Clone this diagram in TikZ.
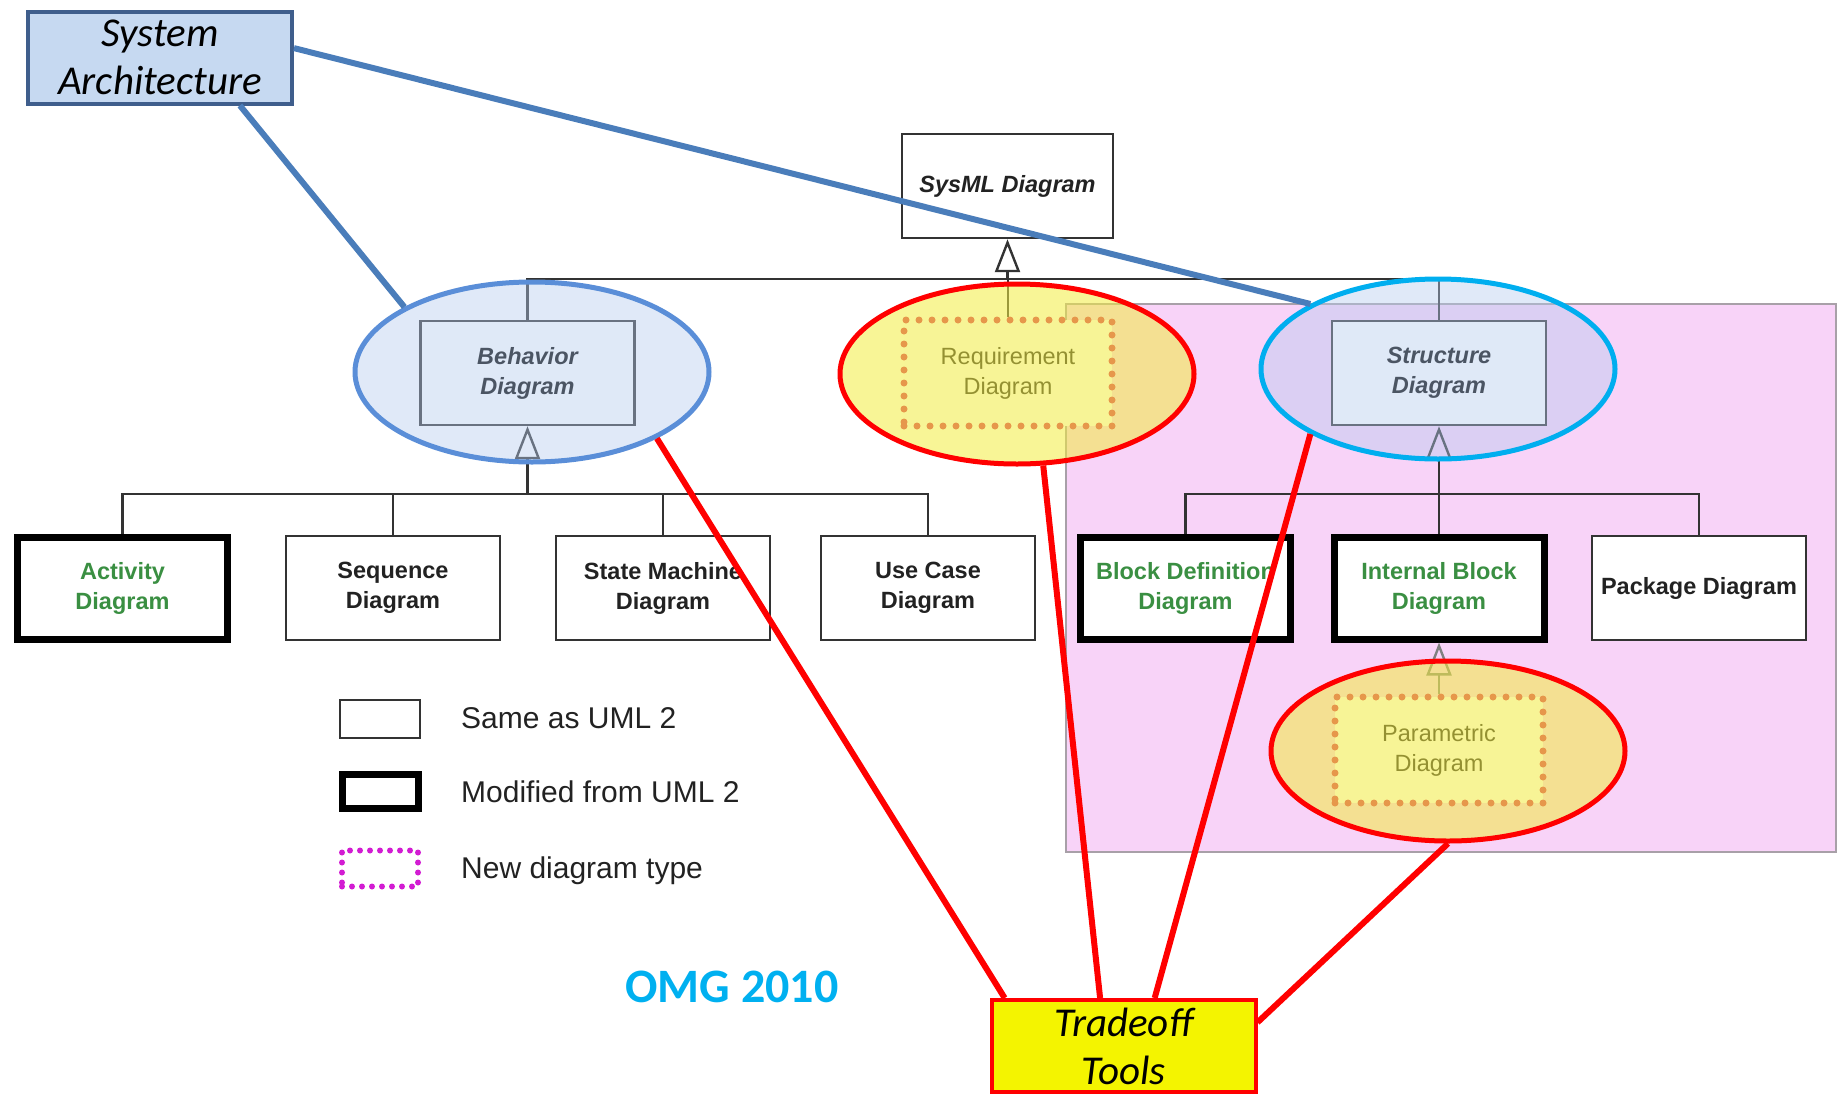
\documentclass[tikz,border=0pt]{standalone}
\usepackage{fontspec}
\setmainfont{Liberation Sans}
\newfontfamily\calibri{Carlito}
\usetikzlibrary{shapes.geometric,arrows.meta}

\definecolor{pinkbg}{HTML}{F8D3F8}
\definecolor{regiongray}{HTML}{A8A0A8}
\definecolor{treegray}{HTML}{333333}
\definecolor{textdark}{HTML}{222222}
\definecolor{modgreen}{HTML}{3A8F42}
\definecolor{dotred}{HTML}{D8305A}
\definecolor{legmag}{HTML}{D21CD2}
\definecolor{lightblue}{HTML}{B4CBEE}
\definecolor{behblue}{HTML}{5A8ED8}
\definecolor{strcyan}{HTML}{00AEEF}
\definecolor{hiyellow}{HTML}{F2EC40}
\definecolor{archfill}{HTML}{C6D9F1}
\definecolor{archdraw}{HTML}{3F5E8C}
\definecolor{archline}{HTML}{4A7DBA}
\definecolor{tradefill}{HTML}{F4F400}
\definecolor{omgblue}{HTML}{00B0F0}

\newcommand{\diagfont}{\fontsize{23.5}{30}\selectfont\bfseries}
\newcommand{\calfont}{\calibri\itshape\fontsize{41}{48}\selectfont}

\tikzset{
  diag/.style={draw=treegray, line width=2.4pt, fill=white, minimum width=214pt,
    minimum height=104pt, align=center, font=\diagfont, text=textdark},
  moddiag/.style={diag, draw=black, line width=7pt, minimum width=210pt,
    minimum height=102pt, text=modgreen},
  newdiag/.style={draw=dotred, fill=white, line width=7pt, dash pattern=on 0pt off 13pt,
    line cap=round, minimum width=208pt, minimum height=106pt, align=center,
    font=\diagfont\mdseries, text=textdark},
  hilite/.style={ellipse, minimum width=354pt, minimum height=180pt, line width=5pt},
  tree/.style={draw=treegray, line width=2.4pt},
  gen/.style={-{Triangle[open, length=33pt, width=25pt, line width=2.4pt]}},
  legbox/.style={draw=treegray, line width=2.4pt, minimum width=80pt, minimum height=38pt},
  legtext/.style={anchor=west, inner sep=0pt, font=\fontsize{30}{36}\selectfont, text=textdark},
  bigbox/.style={minimum width=264pt, minimum height=92pt, line width=4pt, align=center,
    font=\calfont, inner sep=2pt},
  archtie/.style={draw=archline, line width=6pt},
  tradetie/.style={draw=red, line width=6pt}
}

\begin{document}
\begin{tikzpicture}[x=1pt,y=-1pt]
\useasboundingbox (0,0) rectangle (1845,1098);

% structure part
\fill[pinkbg, draw=regiongray, line width=2pt] (1066,304) rectangle (1836,852);

% tree
\node[diag, font=\diagfont\itshape, minimum width=211pt] (sysml) at (1007.5,186) {SysML Diagram};
\node[diag, font=\diagfont\itshape, text=black] (beh) at (527.5,373) {Behavior\\Diagram};
\node[newdiag] (req) at (1008,373) {Requirement\\Diagram};
\node[diag, font=\diagfont\itshape, text=black] (str) at (1439,373) {Structure\\Diagram};

\coordinate (top) at (1007.5,279);
\draw[tree] (beh.north) |- (top) -| (str.north);
\draw[tree] (req.north) -- (req.north |- top);
\draw[tree, gen] (top) -- (sysml.south);

\node[moddiag] (act) at (122.5,588) {Activity\\Diagram};
\node[diag] (seq) at (393,588) {Sequence\\Diagram};
\node[diag] (stm) at (663,588) {State Machine\\Diagram};
\node[diag] (uc) at (928,588) {Use Case\\Diagram};
\node[moddiag] (bdd) at (1185.5,588) {Block Definition\\Diagram};
\node[moddiag] (ibd) at (1439,588) {Internal Block\\Diagram};
\node[diag] (pkg) at (1699,588) {Package Diagram};
\node[newdiag] (par) at (1439,750) {Parametric\\Diagram};

\coordinate (bbus) at (527.5,494);
\draw[tree] (act.north) |- (bbus) -| (uc.north);
\draw[tree] (seq.north) -- (seq.north |- bbus);
\draw[tree] (stm.north) -- (stm.north |- bbus);
\draw[tree, gen] (bbus) -- (beh.south);

\coordinate (sbus) at (1439,494);
\draw[tree] (bdd.north) |- (sbus) -| (pkg.north);
\draw[tree, gen] (ibd.north) -- (str.south);
\draw[tree, gen, draw=gray] (par.north) -- (ibd.south);

% highlights
\node[hilite, draw=behblue, fill=lightblue, fill opacity=0.42] (behell) at (532,372) {};
\node[hilite, draw=red, fill=hiyellow, fill opacity=0.55] (reqell) at (1017,374) {};
\node[hilite, draw=strcyan, fill=lightblue, fill opacity=0.42] (strell) at (1438,369) {};
\node[hilite, draw=red, fill=hiyellow, fill opacity=0.55] (parell) at (1448,751) {};

% legend
\node[legbox] (same) at (380,719) {};
\node[legbox, draw=black, line width=7pt, minimum width=76pt, minimum height=34pt] (modif) at (380,791.5) {};
\node[legbox, draw=legmag, line width=6pt, dash pattern=on 0pt off 10pt, line cap=round,
  minimum width=76pt, minimum height=36pt] (newtype) at (380,868.5) {};
\node[legtext] (sametxt) at (461,718) {Same as UML 2};
\node[legtext] (modiftxt) at (461,792) {Modified from UML 2};
\node[legtext] (newtxt) at (461,871) {New diagram type};

\node[font=\calibri\bfseries\fontsize{48}{58}\selectfont, text=omgblue] (omg) at (732,987) {OMG 2010};

% callouts
\node[bigbox, draw=archdraw, fill=archfill] (sysarch) at (160,57.5) {System\\Architecture};
\node[bigbox, draw=red, fill=tradefill] (trade) at (1123.5,1046) {Tradeoff\\Tools};

\draw[archtie] (sysarch.-31) -- (behell.153);
\draw[archtie] (sysarch.4) -- (strell.153);
\draw[tradetie] (behell.-28) -- (trade.158);
\draw[tradetie] (reqell.-74) -- (trade.116);
\draw[tradetie] (strell.207) -- (trade.57);
\draw[tradetie] (parell.south) -- (trade.10);

\end{tikzpicture}
\end{document}
